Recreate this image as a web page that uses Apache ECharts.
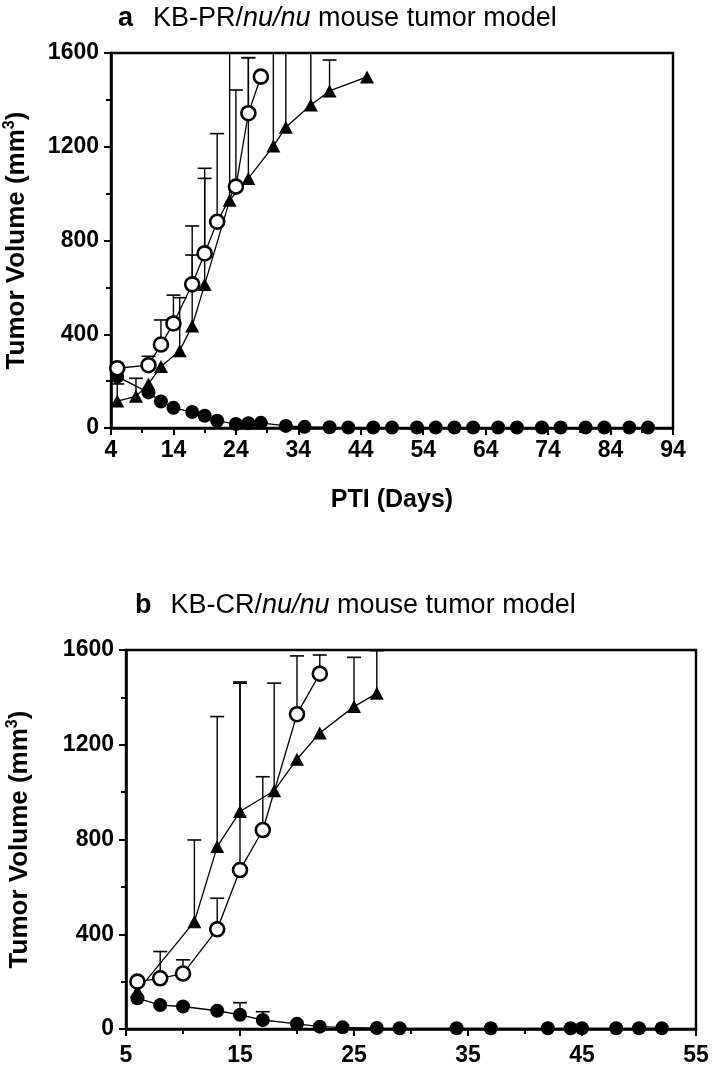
<!DOCTYPE html>
<html>
<head>
<meta charset="utf-8">
<script src="https://cdn.jsdelivr.net/npm/echarts@6/dist/echarts.min.js"></script>
<style>
html,body{margin:0;padding:0;background:#fff;}
#c{width:712px;height:1067px;}
</style>
</head>
<body>
<div id="c"></div>
<script>
// ---------- Panel a : KB-PR ----------
const aOpenDays = [5, 10, 12, 14, 17, 19, 21, 24, 26, 28];
const aOpenVals = [255, 268, 356, 446, 613, 745, 880, 1030, 1343, 1499];
const aOpenErr  = [null, 306, 461, 567, 862, 1108, 1256, 1442, 1580, null];

const aTriDays = [5, 8, 10, 12, 15, 17, 19, 23, 26, 30, 32, 36, 39, 45];
const aTriVals = [115, 135, 188, 262, 330, 435, 612, 972, 1065, 1203, 1283, 1378, 1438, 1498];
const aTriErr  = [188, 212, null, null, 556, 738, 1065, 2000, 1580, 2000, 2000, 2000, 1570, null];

const aFillDays = [5, 10, 12, 14, 17, 19, 21, 24, 26, 28, 32, 35, 39, 42, 46, 49, 53, 56, 59, 62, 66, 69, 73, 76, 80, 83, 87, 90];
const aFillVals = [219, 152, 113, 86, 68, 52, 31, 17, 20, 22, 9, 5, 3, 2, 2, 2, 2, 2, 2, 2, 2, 2, 2, 2, 2, 2, 2, 2];

// ---------- Panel b : KB-CR ----------
const bOpenDays = [6, 8, 10, 13, 15, 17, 20, 22];
const bOpenVals = [200, 214, 234, 421, 671, 840, 1329, 1500];
const bOpenErr  = [null, 327, 292, 552, 1465, 1065, 1575, 1579];

const bTriDays = [6, 11, 13, 15, 18, 20, 22, 25, 27];
const bTriVals = [160, 453, 770, 918, 1006, 1139, 1250, 1361, 1417];
const bTriErr  = [null, 798, 1319, 1460, 1460, null, null, 1569, 1597];

const bFillDays = [6, 8, 10, 13, 15, 17, 20, 22, 24, 27, 29, 34, 37, 42, 44, 45, 48, 50, 52];
const bFillVals = [130, 101, 95, 77, 60, 38, 22, 10, 7, 4, 3, 3, 3, 3, 3, 3, 3, 3, 3];
const bFillErr  = [null, null, null, null, 111, 73, null, null, null, null, null, null, null, null, null, null, null, null, null];

const yTicksMax = 1600;

function pairs(d, v) { return d.map((x, i) => [x, v[i]]); }
function errTriples(d, v, e) {
  const out = [];
  d.forEach((x, i) => { if (e[i] != null) out.push([x, v[i], e[i]]); });
  return out;
}

const FONT = 'Liberation Sans, Arial, sans-serif';

function errSeries(idx, data) {
  return {
    type: 'custom', xAxisIndex: idx, yAxisIndex: idx, clip: true, z: 1,
    encode: { x: 0, y: [1, 2] },
    data: data,
    renderItem: function (params, api) {
      const x = api.value(0), v = api.value(1), e = api.value(2);
      const p0 = api.coord([x, v]);
      const p1 = api.coord([x, e]);
      const hw = 7;
      return {
        type: 'group',
        children: [
          { type: 'line', shape: { x1: p0[0], y1: p0[1], x2: p1[0], y2: p1[1] }, style: { stroke: '#000', lineWidth: 1.4 } },
          { type: 'line', shape: { x1: p1[0] - hw, y1: p1[1], x2: p1[0] + hw, y2: p1[1] }, style: { stroke: '#000', lineWidth: 1.6 } }
        ]
      };
    }
  };
}

function lineSeries(idx, data, kind) {
  const base = {
    type: 'line', xAxisIndex: idx, yAxisIndex: idx, data: data,
    lineStyle: { color: '#000', width: 1.3 }, z: 3, animation: false,
    clip: false
  };
  if (kind === 'open') {
    base.symbol = 'circle'; base.symbolSize = 14;
    base.itemStyle = { color: '#fff', borderColor: '#000', borderWidth: 2.6 };
    base.z = 4;
  } else if (kind === 'tri') {
    base.symbol = 'triangle'; base.symbolSize = [14, 13];
    base.itemStyle = { color: '#000', borderColor: '#000', borderWidth: 0 };
  } else {
    base.symbol = 'circle'; base.symbolSize = 14;
    base.itemStyle = { color: '#000', borderColor: '#000', borderWidth: 0 };
  }
  return base;
}

const axisLabelStyle = { color: '#000', fontSize: 23, fontWeight: 'bold', fontFamily: FONT };
const yName = 'Tumor Volume (mm{s|3})';
const yNameStyle = {
  color: '#000', fontSize: 26, fontWeight: 'bold', fontFamily: FONT,
  rich: { s: { fontSize: 16, fontWeight: 'bold', fontFamily: FONT, verticalAlign: 'top', padding: [0, 0, 14, 0] } }
};

function yAxis(idx, gap) {
  return {
    type: 'value', gridIndex: idx, min: 0, max: yTicksMax, interval: 400,
    name: yName, nameLocation: 'middle', nameGap: gap, nameTextStyle: yNameStyle,
    axisLine: { show: true, lineStyle: { color: '#000', width: 2.6 } },
    axisTick: { show: true, length: 7, lineStyle: { color: '#000', width: 2 } },
    minorTick: { show: true, splitNumber: 2, length: 5, lineStyle: { color: '#000', width: 2 } },
    splitLine: { show: false },
    axisLabel: Object.assign({ margin: 12, formatter: function (v) { return String(v); } }, axisLabelStyle)
  };
}

function xAxis(idx, min, max, name, margin) {
  const ax = {
    type: 'value', gridIndex: idx, min: min, max: max, interval: 10,
    axisLine: { show: true, onZero: false, lineStyle: { color: '#000', width: 2.6 } },
    axisTick: { show: true, length: 7, lineStyle: { color: '#000', width: 2 } },
    minorTick: { show: true, splitNumber: 2, length: 5, lineStyle: { color: '#000', width: 2 } },
    splitLine: { show: false },
    axisLabel: Object.assign({ margin: margin, formatter: function (v) { return String(v); } }, axisLabelStyle)
  };
  if (name) {
    ax.name = name; ax.nameLocation = 'middle'; ax.nameGap = 60;
    ax.nameTextStyle = { color: '#000', fontSize: 25, fontWeight: 'bold', fontFamily: FONT };
  }
  return ax;
}

function titleRich(gap) {
  return {
    b: { fontSize: 27, fontWeight: 'bold', fontFamily: FONT, color: '#000', padding: [0, gap, 0, 0] },
    n: { fontSize: 27, fontWeight: 'normal', fontFamily: FONT, color: '#000' },
    i: { fontSize: 27, fontWeight: 'normal', fontStyle: 'italic', fontFamily: FONT, color: '#000' }
  };
}

const chart = echarts.init(document.getElementById('c'), null, { renderer: 'canvas' });
chart.setOption({
  backgroundColor: '#fff',
  animation: false,
  title: [
    { text: '{b|a}{n|KB-PR/}{i|nu/nu}{n| mouse tumor model}', left: 113, top: 0, textStyle: { fontWeight: 'normal', rich: titleRich(20) } },
    { text: '{b|b}{n|KB-CR/}{i|nu/nu}{n| mouse tumor model}', left: 130, top: 587, textStyle: { fontWeight: 'normal', rich: titleRich(19) } }
  ],
  grid: [
    { left: 111, top: 53, width: 562, height: 375, show: true, borderColor: '#000', borderWidth: 2.4, backgroundColor: 'transparent', outerBoundsMode: 'none', containLabel: false },
    { left: 126, top: 650, width: 570, height: 379, show: true, borderColor: '#000', borderWidth: 2.4, backgroundColor: 'transparent', outerBoundsMode: 'none', containLabel: false }
  ],
  xAxis: [xAxis(0, 4, 94, 'PTI (Days)', 11), xAxis(1, 5, 55, null, 15)],
  yAxis: [yAxis(0, 79), yAxis(1, 91)],
  series: [
    errSeries(0, errTriples(aOpenDays, aOpenVals, aOpenErr)),
    errSeries(0, errTriples(aTriDays, aTriVals, aTriErr)),
    lineSeries(0, pairs(aFillDays, aFillVals), 'fill'),
    lineSeries(0, pairs(aTriDays, aTriVals), 'tri'),
    lineSeries(0, pairs(aOpenDays, aOpenVals), 'open'),
    errSeries(1, errTriples(bOpenDays, bOpenVals, bOpenErr)),
    errSeries(1, errTriples(bTriDays, bTriVals, bTriErr)),
    errSeries(1, errTriples(bFillDays, bFillVals, bFillErr)),
    lineSeries(1, pairs(bFillDays, bFillVals), 'fill'),
    lineSeries(1, pairs(bTriDays, bTriVals), 'tri'),
    lineSeries(1, pairs(bOpenDays, bOpenVals), 'open')
  ]
});
</script>
</body>
</html>
